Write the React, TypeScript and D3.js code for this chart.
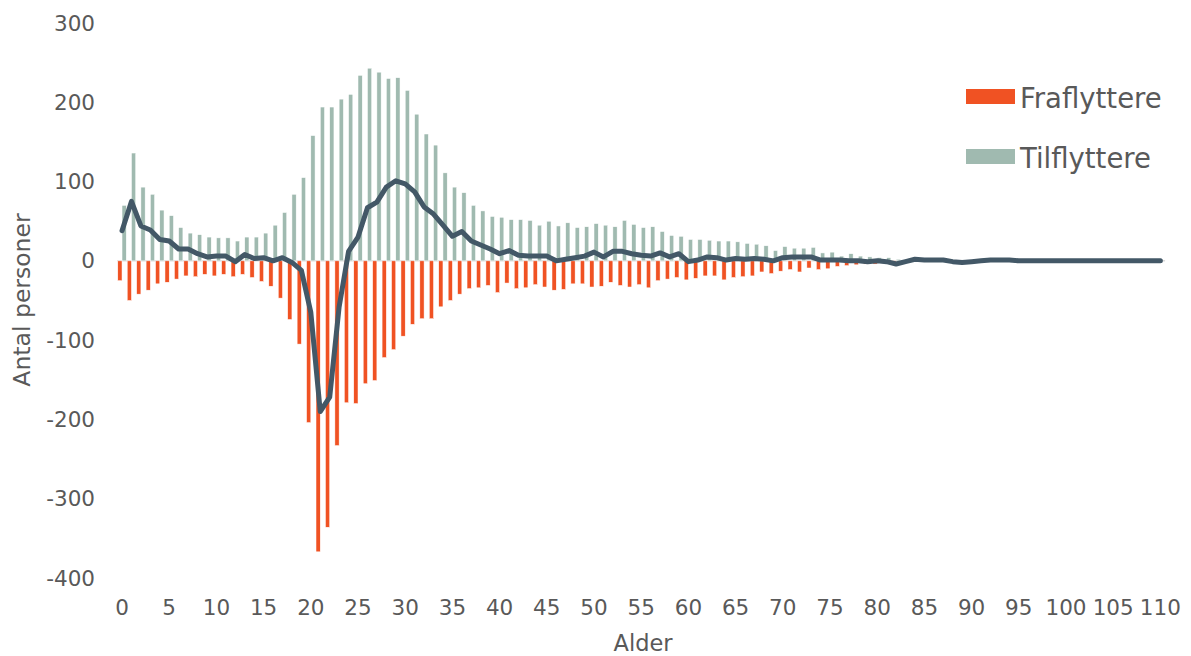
import React from "react";
import * as d3 from "d3";

const ages: number[] = d3.range(0, 111);

const tilflyttere: number[] = [
  70, 136, 93, 84, 64, 57, 42, 35, 33, 30,
  29, 29, 25, 30, 30, 35, 45, 61, 84, 105,
  158, 194, 194, 204, 210, 234, 243, 238, 230, 231,
  215, 185, 160, 146, 111, 93, 86, 70, 63, 56,
  55, 52, 52, 51, 45, 50, 44, 48, 42, 43,
  47, 45, 43, 51, 46, 42, 43, 37, 32, 31,
  27, 27, 26, 25, 25, 24, 22, 21, 19, 13,
  18, 16, 16, 17, 10, 11, 6, 9, 6, 5,
  4, 4, 2, 1, 1, 1, 1, 1, 0, 0,
  0, 0, 0, 0, 0, 0, 0, 0, 0, 0,
  0, 0, 0, 0, 0, 0, 0, 0, 0, 0, 0,
];

const fraflyttere: number[] = [
  -25, -50, -42, -37, -29, -27, -23, -19, -20, -17,
  -19, -17, -20, -17, -21, -26, -32, -47, -74, -105,
  -204, -367, -336, -233, -179, -180, -155, -151, -122, -112,
  -95, -80, -73, -73, -58, -50, -42, -35, -34, -31,
  -40, -28, -35, -34, -30, -33, -37, -36, -29, -29,
  -33, -32, -27, -31, -33, -30, -34, -25, -23, -21,
  -24, -22, -19, -19, -24, -21, -20, -19, -14, -16,
  -13, -11, -14, -9, -11, -10, -7, -6, -5, -4,
  -4, -3, -2, -1, -1, -1, 0, 0, 0, 0,
  0, 0, 0, 0, 0, 0, 0, 0, 0, 0,
  0, 0, 0, 0, 0, 0, 0, 0, 0, 0, 0,
];

const netto: number[] = [
  38, 75, 44, 39, 27, 25, 15, 15, 9, 5,
  6, 6, -1, 8, 3, 4, 0, 4, -2, -12,
  -65, -190, -172, -58, 12, 30, 67, 74, 93, 101,
  97, 87, 68, 59, 45, 31, 37, 25, 20, 15,
  9, 13, 7, 6, 6, 6, 0, 2, 4, 6,
  11, 5, 12, 12, 9, 7, 6, 10, 5, 9,
  -1, 1, 5, 4, 1, 3, 2, 3, 2, 0,
  4, 5, 5, 5, 1, 1, 1, 0, 0, -1,
  0, -1, -4, -1, 2, 1, 1, 1, -1, -2,
  -1, 0, 1, 1, 1, 0, 0, 0, 0, 0,
  0, 0, 0, 0, 0, 0, 0, 0, 0, 0, 0,
];

const yTicks: number[] = [300, 200, 100, 0, -100, -200, -300, -400];
const xTicks: number[] = d3.range(0, 111, 5);

const seriesNames = ["Fraflyttere", "Tilflyttere"];
const colors = { fra: "#F05223", til: "#A0BAB0", line: "#435867", text: "#595959", axis: "#D9D9D9" };

export default function App() {
  const width = 1191;
  const height = 656;
  const x = d3.scaleBand<number>().domain(ages).range([117.3, 1165.1]).padding(0);
  const y = d3.scaleLinear().domain([-400, 300]).range([578, 23]);
  const bw = x.bandwidth();
  const barW = bw * 0.45;
  const cx = (a: number) => (x(a) as number) + bw / 2;

  const line = d3
    .line<number>()
    .x((_, i) => cx(ages[i]))
    .y((d) => y(d))
    .curve(d3.curveLinear);

  const font = "'DejaVu Sans', Verdana, sans-serif";

  return (
    <svg
      width={width}
      height={height}
      style={{ position: "absolute", left: 0, top: 0, background: "#fff" }}
      fontFamily={font}
    >
      <rect x={0} y={0} width={width} height={height} fill="#fff" />
      {/* y tick labels */}
      {yTicks.map((t) => (
        <text key={t} x={95} y={y(t)} textAnchor="end" dominantBaseline="central" fontSize={21.5} fill={colors.text}>
          {t}
        </text>
      ))}
      {/* zero line */}
      <line x1={117.3} x2={1165.1} y1={y(0)} y2={y(0)} stroke={colors.axis} strokeWidth={1.5} />
      {/* bars */}
      {ages.map((a, i) => (
        <g key={a}>
          {fraflyttere[i] !== 0 && (
            <rect
              x={cx(a) - barW}
              y={y(0)}
              width={barW}
              height={y(fraflyttere[i]) - y(0)}
              fill={colors.fra}
              stroke="#fff"
              strokeWidth={0.5}
            />
          )}
          {tilflyttere[i] !== 0 && (
            <rect
              x={cx(a)}
              y={y(tilflyttere[i])}
              width={barW}
              height={y(0) - y(tilflyttere[i])}
              fill={colors.til}
              stroke="#fff"
              strokeWidth={0.5}
            />
          )}
        </g>
      ))}
      {/* net line */}
      <path d={line(netto) ?? ""} fill="none" stroke={colors.line} strokeWidth={5} strokeLinejoin="round" strokeLinecap="round" />
      {/* x tick labels */}
      {xTicks.map((t) => (
        <text key={t} x={cx(t)} y={607} textAnchor="middle" dominantBaseline="central" fontSize={21.5} fill={colors.text}>
          {t}
        </text>
      ))}
      {/* axis titles */}
      <text x={643} y={651} textAnchor="middle" fontSize={22.5} fill={colors.text}>
        Alder
      </text>
      <text
        transform={`translate(22, 300) rotate(-90)`}
        textAnchor="middle"
        dominantBaseline="central"
        fontSize={23.5}
        fill={colors.text}
      >
        Antal personer
      </text>
      {/* legend */}
      <rect x={966} y={89} width={49} height={15} fill={colors.fra} />
      <text x={1020} y={98} dominantBaseline="central" fontSize={27.5} fill={colors.text}>
        {seriesNames[0]}
      </text>
      <rect x={966} y={149} width={49} height={15} fill={colors.til} />
      <text x={1020} y={158} dominantBaseline="central" fontSize={27.5} fill={colors.text}>
        {seriesNames[1]}
      </text>
    </svg>
  );
}
